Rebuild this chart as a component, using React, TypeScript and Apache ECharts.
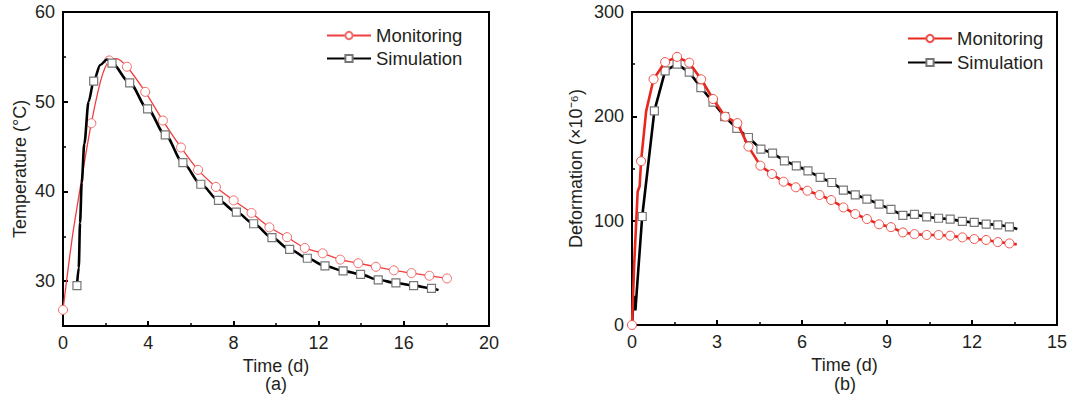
import React, { useEffect, useRef } from "react";
import * as echarts from "echarts";

// ---------- Data (a): Temperature ----------
// points drawn with a marker
const tempMonitoringMarked: number[][] = [
  [0, 26.8], [1.33, 47.6], [2.17, 54.6], [3.0, 53.9], [3.86, 51.1], [4.69, 47.9],
  [5.54, 44.9], [6.34, 42.4], [7.18, 40.5], [8.01, 39.0], [8.85, 37.6], [9.69, 36.0],
  [10.52, 34.9], [11.35, 33.7], [12.19, 33.1], [13.02, 32.4], [13.86, 32.0],
  [14.69, 31.6], [15.53, 31.2], [16.36, 30.9], [17.2, 30.6], [18.03, 30.3],
];
// points on the curve without a marker
const tempMonitoringPath: number[][] = [
  [0.42, 34.6], [0.85, 41], [1.8, 52.6], [2.5, 54.8],
];
const tempSimulationMarked: number[][] = [
  [0.655, 29.5], [1.44, 52.3], [2.3, 54.3], [3.13, 52.1], [3.97, 49.2], [4.8, 46.3],
  [5.63, 43.2], [6.47, 40.8], [7.3, 39.0], [8.14, 37.7], [8.95, 36.4], [9.81, 34.85],
  [10.64, 33.55], [11.47, 32.55], [12.3, 31.7], [13.15, 31.15], [13.97, 30.75],
  [14.8, 30.15], [15.63, 29.8], [16.46, 29.5], [17.3, 29.2],
];
const tempSimulationPath: number[][] = [
  [0.74, 31.5], [0.8, 36.5], [0.88, 41], [1.0, 45.3], [1.2, 50], [1.75, 54.1], [2.06, 54.7], [17.63, 29.0],
];

// ---------- Data (b): Deformation ----------
const defMonitoringMarked: number[][] = [
  [0, 0], [0.32, 157], [0.76, 235.6], [1.17, 252], [1.59, 257], [2.02, 251.4],
  [2.44, 235.5], [2.86, 216.6], [3.29, 199.7], [3.72, 193.5], [4.11, 171], [4.53, 152.7],
  [4.94, 144.7], [5.35, 137.3], [5.78, 132], [6.19, 128.7], [6.62, 124.6], [7.03, 119.8],
  [7.46, 112.7], [7.88, 106.4], [8.29, 101.6], [8.72, 96.5], [9.14, 93.8], [9.56, 88.7],
  [9.97, 87.1], [10.4, 86.3], [10.82, 86.3], [11.23, 85.6], [11.66, 84], [12.08, 82.4],
  [12.5, 81.5], [12.91, 79.5], [13.32, 78.2],
];
const defMonitoringPath: number[][] = [
  [0.08, 60], [0.2, 128], [0.27, 133], [0.5, 205], [13.58, 77.3],
];
const defSimulationMarked: number[][] = [
  [0.36, 104], [0.79, 205.3], [1.17, 243.6], [1.59, 250], [2.02, 242.4], [2.43, 227.6],
  [2.86, 213.6], [3.27, 199.7], [3.7, 188.5], [4.11, 179.7], [4.55, 168.6], [4.96, 164.7],
  [5.38, 157.4], [5.8, 152.6], [6.21, 147.8], [6.64, 141.4], [7.05, 136.6], [7.46, 129.3],
  [7.88, 124.8], [8.29, 120.7], [8.72, 115.9], [9.14, 110.8], [9.56, 105], [9.97, 106],
  [10.4, 103.6], [10.82, 102.3], [11.23, 101.5], [11.66, 99.3], [12.08, 98.3], [12.5, 96.7],
  [12.91, 96], [13.32, 94.1],
];
const defSimulationPath: number[][] = [
  [0, 0], [0.06, 28], [0.12, 14], [0.22, 52], [13.6, 91.9],
];

// ---------- Axis ticks ----------
const tempMajorTicks = [30, 40, 50, 60];
const tempMinorTicks = [35, 45, 55];

const FONT = "Liberation Sans, Arial, sans-serif";
const TEXT = "#231f20";

function merge(marked: number[][], path: number[][]) {
  const items = [
    ...marked.map((p) => ({ value: p })),
    ...path.map((p) => ({ value: p, symbol: "none" })),
  ];
  items.sort((a, b) => a.value[0] - b.value[0]);
  return items;
}

export default function App() {
  const ref = useRef<HTMLDivElement>(null);
  useEffect(() => {
    if (!ref.current) return;
    const chart = echarts.init(ref.current, undefined, { renderer: "svg" });
    const tick = { show: true, inside: true, length: 5, lineStyle: { color: "#000", width: 2 } };
    const minor = { show: true, splitNumber: 2, length: 3, lineStyle: { color: "#000", width: 1.5 } };
    const label = { color: TEXT, fontSize: 18, fontFamily: FONT, margin: 8 };
    const nameStyle = { color: TEXT, fontSize: 18, fontFamily: FONT };
    const legendText = { color: TEXT, fontSize: 18.5, fontFamily: FONT, lineHeight: 18 };

    chart.setOption({
      animation: false,
      backgroundColor: "#fff",
      grid: [
        { left: 63, top: 12, width: 426, height: 314, show: true, borderColor: "#000", borderWidth: 2, backgroundColor: "transparent" },
        { left: 632, top: 12, width: 425, height: 313, show: true, borderColor: "#000", borderWidth: 2, backgroundColor: "transparent" },
      ],
      xAxis: [
        {
          type: "value", gridIndex: 0, min: 0, max: 20, interval: 4,
          axisLine: { show: false }, axisTick: tick, minorTick: minor, splitLine: { show: false },
          axisLabel: label, name: "Time (d)", nameLocation: "middle", nameGap: 30, nameTextStyle: nameStyle,
        },
        {
          type: "value", gridIndex: 1, min: 0, max: 15, interval: 3,
          axisLine: { show: false }, axisTick: tick, minorTick: minor, splitLine: { show: false },
          axisLabel: label, name: "Time (d)", nameLocation: "middle", nameGap: 30, nameTextStyle: nameStyle,
        },
      ],
      yAxis: [
        {
          type: "value", gridIndex: 0, min: 25, max: 60, position: "left",
          axisLine: { show: false },
          axisTick: { ...tick, customValues: tempMajorTicks },
          axisLabel: { ...label, customValues: tempMajorTicks },
          splitLine: { show: false },
          name: "Temperature (°C)", nameLocation: "middle", nameRotate: 90, nameGap: 34, nameTextStyle: nameStyle,
        },
        {
          type: "value", gridIndex: 0, min: 25, max: 60, position: "left", offset: 0,
          axisLine: { show: false },
          axisTick: { show: true, inside: true, length: 3, lineStyle: { color: "#000", width: 1.5 }, customValues: tempMinorTicks },
          axisLabel: { show: false },
          splitLine: { show: false },
        },
        {
          type: "value", gridIndex: 1, min: 0, max: 300, interval: 100,
          axisLine: { show: false }, axisTick: tick, minorTick: minor, splitLine: { show: false },
          axisLabel: label,
          name: "Deformation (×10⁻⁶)", nameLocation: "middle", nameRotate: 90, nameGap: 47, nameTextStyle: nameStyle,
        },
      ],
      legend: [
        {
          orient: "vertical", left: 321, top: 21, itemWidth: 44, itemHeight: 9, itemGap: 4,
          selectedMode: false, data: ["Monitoring", "Simulation"],
          textStyle: legendText,
        },
        {
          orient: "vertical", left: 902, top: 24, itemWidth: 44, itemHeight: 9, itemGap: 5,
          selectedMode: false, data: ["Monitoring-b", "Simulation-b"],
          formatter: (n: string) => n.replace("-b", ""),
          textStyle: legendText,
        },
      ],
      graphic: [
        { type: "text", x: 276, y: 384, style: { text: "(a)", fill: TEXT, font: `18px ${FONT}`, textAlign: "center", textVerticalAlign: "middle" } },
        { type: "text", x: 845, y: 384, style: { text: "(b)", fill: TEXT, font: `18px ${FONT}`, textAlign: "center", textVerticalAlign: "middle" } },
      ],
      series: [
        {
          type: "line", name: "Monitoring", xAxisIndex: 0, yAxisIndex: 0,
          data: merge(tempMonitoringMarked, tempMonitoringPath),
          smooth: 0.3,
          symbol: "circle", symbolSize: 9,
          itemStyle: { color: "#fff", borderColor: "#f26a6a", borderWidth: 1 },
          lineStyle: { color: "#f03e3e", width: 1.3 },
          z: 2,
        },
        {
          type: "line", name: "Simulation", xAxisIndex: 0, yAxisIndex: 0,
          data: merge(tempSimulationMarked, tempSimulationPath),
          smooth: 0.3, smoothMonotone: "x",
          symbol: "rect", symbolSize: 8,
          itemStyle: { color: "#fff", borderColor: "#777", borderWidth: 1.2 },
          lineStyle: { color: "#000", width: 2.6 },
          z: 3,
        },
        {
          type: "line", name: "Simulation-b", xAxisIndex: 1, yAxisIndex: 2,
          data: merge(defSimulationMarked, defSimulationPath),
          smooth: false,
          symbol: "rect", symbolSize: 8,
          itemStyle: { color: "#fff", borderColor: "#777", borderWidth: 1.2 },
          lineStyle: { color: "#000", width: 2.6 },
          z: 2,
        },
        {
          type: "line", name: "Monitoring-b", xAxisIndex: 1, yAxisIndex: 2,
          data: merge(defMonitoringMarked, defMonitoringPath),
          smooth: false,
          symbol: "circle", symbolSize: 9,
          itemStyle: { color: "#fff", borderColor: "#f0504a", borderWidth: 1 },
          lineStyle: { color: "#e8281e", width: 2.6 },
          z: 3,
        },
      ],
    });
    return () => chart.dispose();
  }, []);
  return (
    <div
      ref={ref}
      style={{ position: "fixed", left: 0, top: 0, width: 1075, height: 413, background: "#fff" }}
    />
  );
}
